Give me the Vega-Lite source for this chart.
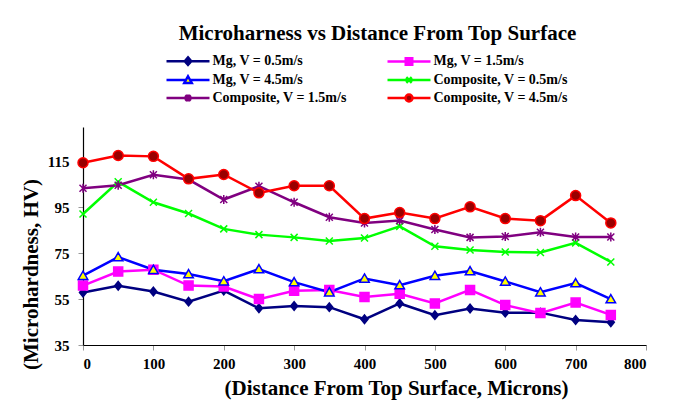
{
  "$schema": "https://vega.github.io/schema/vega-lite/v6.json",
  "width": 563,
  "height": 218,
  "autosize": {"type": "none"},
  "padding": {"left": 83, "top": 127, "right": 32, "bottom": 56},
  "background": "white",
  "title": {
    "text": "Microharness vs  Distance From Top Surface",
    "font": "Liberation Serif",
    "fontSize": 21,
    "fontWeight": "bold",
    "color": "black",
    "anchor": "middle",
    "dx": 13,
    "offset": 10
  },
  "config": {
    "view": {"stroke": null},
    "axis": {
      "labelFont": "Liberation Serif",
      "labelFontSize": 15,
      "labelFontWeight": "bold",
      "labelColor": "black",
      "titleFont": "Liberation Serif",
      "titleFontSize": 21,
      "titleFontWeight": "bold",
      "titleColor": "black",
      "domainColor": "black",
      "domainWidth": 1.2,
      "tickColor": "#999999",
      "tickSize": 5,
      "grid": false
    }
  },
  "resolve": {"scale": {"stroke": "independent", "fill": "independent", "shape": "independent"}},
  "data": {
    "values": [
      {"x": 0, "hv": 57.9, "s": "Mg, V = 0.5m/s"},
      {"x": 50, "hv": 60.8, "s": "Mg, V = 0.5m/s"},
      {"x": 100, "hv": 58.3, "s": "Mg, V = 0.5m/s"},
      {"x": 150, "hv": 53.9, "s": "Mg, V = 0.5m/s"},
      {"x": 200, "hv": 58.7, "s": "Mg, V = 0.5m/s"},
      {"x": 250, "hv": 51.0, "s": "Mg, V = 0.5m/s"},
      {"x": 300, "hv": 52.0, "s": "Mg, V = 0.5m/s"},
      {"x": 350, "hv": 51.5, "s": "Mg, V = 0.5m/s"},
      {"x": 400, "hv": 46.2, "s": "Mg, V = 0.5m/s"},
      {"x": 450, "hv": 53.1, "s": "Mg, V = 0.5m/s"},
      {"x": 500, "hv": 48.0, "s": "Mg, V = 0.5m/s"},
      {"x": 550, "hv": 50.9, "s": "Mg, V = 0.5m/s"},
      {"x": 600, "hv": 49.1, "s": "Mg, V = 0.5m/s"},
      {"x": 650, "hv": 49.1, "s": "Mg, V = 0.5m/s"},
      {"x": 700, "hv": 45.9, "s": "Mg, V = 0.5m/s"},
      {"x": 750, "hv": 44.9, "s": "Mg, V = 0.5m/s"},

      {"x": 0, "hv": 60.9, "s": "Mg,  V = 1.5m/s"},
      {"x": 50, "hv": 67.0, "s": "Mg,  V = 1.5m/s"},
      {"x": 100, "hv": 67.8, "s": "Mg,  V = 1.5m/s"},
      {"x": 150, "hv": 60.9, "s": "Mg,  V = 1.5m/s"},
      {"x": 200, "hv": 60.5, "s": "Mg,  V = 1.5m/s"},
      {"x": 250, "hv": 55.0, "s": "Mg,  V = 1.5m/s"},
      {"x": 300, "hv": 58.6, "s": "Mg,  V = 1.5m/s"},
      {"x": 350, "hv": 59.0, "s": "Mg,  V = 1.5m/s"},
      {"x": 400, "hv": 55.9, "s": "Mg,  V = 1.5m/s"},
      {"x": 450, "hv": 57.3, "s": "Mg,  V = 1.5m/s"},
      {"x": 500, "hv": 53.1, "s": "Mg,  V = 1.5m/s"},
      {"x": 550, "hv": 59.0, "s": "Mg,  V = 1.5m/s"},
      {"x": 600, "hv": 52.4, "s": "Mg,  V = 1.5m/s"},
      {"x": 650, "hv": 48.9, "s": "Mg,  V = 1.5m/s"},
      {"x": 700, "hv": 53.5, "s": "Mg,  V = 1.5m/s"},
      {"x": 750, "hv": 48.1, "s": "Mg,  V = 1.5m/s"},

      {"x": 0, "hv": 65.2, "s": "Mg, V = 4.5m/s"},
      {"x": 50, "hv": 73.3, "s": "Mg, V = 4.5m/s"},
      {"x": 100, "hv": 67.8, "s": "Mg, V = 4.5m/s"},
      {"x": 150, "hv": 65.9, "s": "Mg, V = 4.5m/s"},
      {"x": 200, "hv": 62.8, "s": "Mg, V = 4.5m/s"},
      {"x": 250, "hv": 68.1, "s": "Mg, V = 4.5m/s"},
      {"x": 300, "hv": 62.4, "s": "Mg, V = 4.5m/s"},
      {"x": 350, "hv": 58.0, "s": "Mg, V = 4.5m/s"},
      {"x": 400, "hv": 64.0, "s": "Mg, V = 4.5m/s"},
      {"x": 450, "hv": 61.1, "s": "Mg, V = 4.5m/s"},
      {"x": 500, "hv": 65.2, "s": "Mg, V = 4.5m/s"},
      {"x": 550, "hv": 67.2, "s": "Mg, V = 4.5m/s"},
      {"x": 600, "hv": 62.7, "s": "Mg, V = 4.5m/s"},
      {"x": 650, "hv": 58.0, "s": "Mg, V = 4.5m/s"},
      {"x": 700, "hv": 62.0, "s": "Mg, V = 4.5m/s"},
      {"x": 750, "hv": 55.0, "s": "Mg, V = 4.5m/s"},

      {"x": 0, "hv": 92.1, "s": "Composite, V = 0.5m/s"},
      {"x": 50, "hv": 106.1, "s": "Composite, V = 0.5m/s"},
      {"x": 100, "hv": 97.2, "s": "Composite, V = 0.5m/s"},
      {"x": 150, "hv": 92.3, "s": "Composite, V = 0.5m/s"},
      {"x": 200, "hv": 85.6, "s": "Composite, V = 0.5m/s"},
      {"x": 250, "hv": 83.1, "s": "Composite, V = 0.5m/s"},
      {"x": 300, "hv": 81.9, "s": "Composite, V = 0.5m/s"},
      {"x": 350, "hv": 80.3, "s": "Composite, V = 0.5m/s"},
      {"x": 400, "hv": 81.6, "s": "Composite, V = 0.5m/s"},
      {"x": 450, "hv": 86.7, "s": "Composite, V = 0.5m/s"},
      {"x": 500, "hv": 78.0, "s": "Composite, V = 0.5m/s"},
      {"x": 550, "hv": 76.4, "s": "Composite, V = 0.5m/s"},
      {"x": 600, "hv": 75.5, "s": "Composite, V = 0.5m/s"},
      {"x": 650, "hv": 75.3, "s": "Composite, V = 0.5m/s"},
      {"x": 700, "hv": 79.5, "s": "Composite, V = 0.5m/s"},
      {"x": 750, "hv": 71.2, "s": "Composite, V = 0.5m/s"},

      {"x": 0, "hv": 103.3, "s": "Composite, V = 1.5m/s"},
      {"x": 50, "hv": 104.6, "s": "Composite, V = 1.5m/s"},
      {"x": 100, "hv": 109.2, "s": "Composite, V = 1.5m/s"},
      {"x": 150, "hv": 107.1, "s": "Composite, V = 1.5m/s"},
      {"x": 200, "hv": 98.4, "s": "Composite, V = 1.5m/s"},
      {"x": 250, "hv": 104.2, "s": "Composite, V = 1.5m/s"},
      {"x": 300, "hv": 97.2, "s": "Composite, V = 1.5m/s"},
      {"x": 350, "hv": 90.7, "s": "Composite, V = 1.5m/s"},
      {"x": 400, "hv": 88.2, "s": "Composite, V = 1.5m/s"},
      {"x": 450, "hv": 89.2, "s": "Composite, V = 1.5m/s"},
      {"x": 500, "hv": 85.3, "s": "Composite, V = 1.5m/s"},
      {"x": 550, "hv": 81.9, "s": "Composite, V = 1.5m/s"},
      {"x": 600, "hv": 82.3, "s": "Composite, V = 1.5m/s"},
      {"x": 650, "hv": 84.1, "s": "Composite, V = 1.5m/s"},
      {"x": 700, "hv": 82.1, "s": "Composite, V = 1.5m/s"},
      {"x": 750, "hv": 82.1, "s": "Composite, V = 1.5m/s"},

      {"x": 0, "hv": 114.4, "s": "Composite, V = 4.5m/s"},
      {"x": 50, "hv": 117.6, "s": "Composite, V = 4.5m/s"},
      {"x": 100, "hv": 117.2, "s": "Composite, V = 4.5m/s"},
      {"x": 150, "hv": 107.4, "s": "Composite, V = 4.5m/s"},
      {"x": 200, "hv": 109.3, "s": "Composite, V = 4.5m/s"},
      {"x": 250, "hv": 101.3, "s": "Composite, V = 4.5m/s"},
      {"x": 300, "hv": 104.4, "s": "Composite, V = 4.5m/s"},
      {"x": 350, "hv": 104.4, "s": "Composite, V = 4.5m/s"},
      {"x": 400, "hv": 90.1, "s": "Composite, V = 4.5m/s"},
      {"x": 450, "hv": 92.7, "s": "Composite, V = 4.5m/s"},
      {"x": 500, "hv": 90.1, "s": "Composite, V = 4.5m/s"},
      {"x": 550, "hv": 95.2, "s": "Composite, V = 4.5m/s"},
      {"x": 600, "hv": 90.1, "s": "Composite, V = 4.5m/s"},
      {"x": 650, "hv": 89.2, "s": "Composite, V = 4.5m/s"},
      {"x": 700, "hv": 100.1, "s": "Composite, V = 4.5m/s"},
      {"x": 750, "hv": 88.2, "s": "Composite, V = 4.5m/s"}
    ]
  },
  "encoding": {
    "x": {
      "field": "x",
      "type": "quantitative",
      "scale": {"domain": [0, 800], "nice": false, "zero": false},
      "axis": {
        "values": [0, 100, 200, 300, 400, 500, 600, 700, 800],
        "title": "(Distance From Top Surface, Microns)",
        "labelPadding": 6,
        "titleX": 313,
        "titleY": 43,
        "titleBaseline": "middle",
        "titleAnchor": null
      }
    },
    "y": {
      "field": "hv",
      "type": "quantitative",
      "scale": {"domain": [35, 130], "nice": false, "zero": false},
      "axis": {
        "values": [35, 55, 75, 95, 115],
        "title": "(Microhardness, HV)",
        "labelPadding": 9,
        "titleX": -52,
        "titleY": 147,
        "titleBaseline": "middle",
        "titleAngle": 270
      }
    }
  },
  "layer": [
    {
      "mark": {"type": "line", "strokeWidth": 2.5},
      "encoding": {
        "stroke": {
          "field": "s",
          "type": "nominal",
          "legend": null,
          "scale": {
            "domain": ["Mg, V = 0.5m/s", "Mg,  V = 1.5m/s", "Mg, V = 4.5m/s", "Composite, V = 0.5m/s", "Composite, V = 1.5m/s", "Composite, V = 4.5m/s"],
            "range": ["#000080", "#FF00FF", "#0000FF", "#00FF00", "#800080", "#FF0000"]
          }
        }
      }
    },
    {
      "mark": {"type": "point", "opacity": 1, "size": 100, "strokeWidth": 1.5},
      "encoding": {
        "stroke": {
          "field": "s",
          "type": "nominal",
          "legend": null,
          "scale": {
            "domain": ["Mg, V = 0.5m/s", "Mg,  V = 1.5m/s", "Mg, V = 4.5m/s", "Composite, V = 0.5m/s", "Composite, V = 1.5m/s", "Composite, V = 4.5m/s"],
            "range": ["#000080", "#FF00FF", "#0000FF", "#00FF00", "#800080", "#FF0000"]
          }
        },
        "fill": {
          "field": "s",
          "type": "nominal",
          "legend": null,
          "scale": {
            "domain": ["Mg, V = 0.5m/s", "Mg,  V = 1.5m/s", "Mg, V = 4.5m/s", "Composite, V = 0.5m/s", "Composite, V = 1.5m/s", "Composite, V = 4.5m/s"],
            "range": ["#000080", "#FF00FF", "#FFFF00", "transparent", "transparent", "#990000"]
          }
        },
        "shape": {
          "field": "s",
          "type": "nominal",
          "legend": null,
          "scale": {
            "domain": ["Mg, V = 0.5m/s", "Mg,  V = 1.5m/s", "Mg, V = 4.5m/s", "Composite, V = 0.5m/s", "Composite, V = 1.5m/s", "Composite, V = 4.5m/s"],
            "range": ["M0,-0.85L0.7,0L0,0.85L-0.7,0Z", "M-0.9,-0.9H0.9V0.9H-0.9Z", "M0,-0.9L0.95,0.75H-0.95Z", "M-0.7,-0.7L0.7,0.7M-0.7,0.7L0.7,-0.7", "M-0.7,-0.7L0.7,0.7M-0.7,0.7L0.7,-0.7M0,-0.9V0.9", "circle"]
          }
        }
      }
    },
    {
      "mark": {"type": "point", "opacity": 0, "size": 100, "strokeWidth": 2.5},
      "encoding": {
        "stroke": {
          "field": "s",
          "type": "nominal",
          "scale": {
            "domain": ["Mg, V = 0.5m/s", "Mg,  V = 1.5m/s", "Mg, V = 4.5m/s", "Composite, V = 0.5m/s", "Composite, V = 1.5m/s", "Composite, V = 4.5m/s"],
            "range": ["#000080", "#FF00FF", "#0000FF", "#00FF00", "#800080", "#FF0000"]
          }
        },
        "fill": {
          "field": "s",
          "type": "nominal",
          "scale": {
            "domain": ["Mg, V = 0.5m/s", "Mg,  V = 1.5m/s", "Mg, V = 4.5m/s", "Composite, V = 0.5m/s", "Composite, V = 1.5m/s", "Composite, V = 4.5m/s"],
            "range": ["#000080", "#FF00FF", "#FFFF00", "transparent", "transparent", "#990000"]
          }
        },
        "shape": {
          "field": "s",
          "type": "nominal",
          "scale": {
            "domain": ["Mg, V = 0.5m/s", "Mg,  V = 1.5m/s", "Mg, V = 4.5m/s", "Composite, V = 0.5m/s", "Composite, V = 1.5m/s", "Composite, V = 4.5m/s"],
            "range": [
              "M-1,0H2.65M3.95,0H7.6M3.3,-0.75L3.95,0L3.3,0.75L2.65,0Z",
              "M-1,0H2.65M3.95,0H7.6M2.65,-0.65H3.95V0.65H2.65Z",
              "M-1,0H2.9M3.7,0H7.6M3.3,-0.75L4.05,0.6H2.55Z",
              "M-1,0H7.6M2.75,-0.55L3.85,0.55M2.75,0.55L3.85,-0.55",
              "M-1,0H7.6M2.75,-0.55L3.85,0.55M2.75,0.55L3.85,-0.55M3.3,-0.7V0.7",
              "M-1,0H2.6M4,0H7.6M4,0A0.7,0.7 0 1,1 2.6,0A0.7,0.7 0 1,1 4,0Z"
            ]
          },
          "legend": {
            "title": null,
            "orient": "none",
            "direction": "horizontal",
            "legendX": 81.5,
            "legendY": -73,
            "columns": 2,
            "columnPadding": 35,
            "rowPadding": 1,
            "padding": 0,
            "symbolSize": 100,
            "symbolStrokeWidth": 2.5,
            "symbolOpacity": 1,
            "labelOffset": 34,
            "labelFont": "Liberation Serif",
            "labelFontSize": 14,
            "labelFontWeight": "bold",
            "labelColor": "black",
            "labelLimit": 300
          }
        }
      }
    }
  ]
}
